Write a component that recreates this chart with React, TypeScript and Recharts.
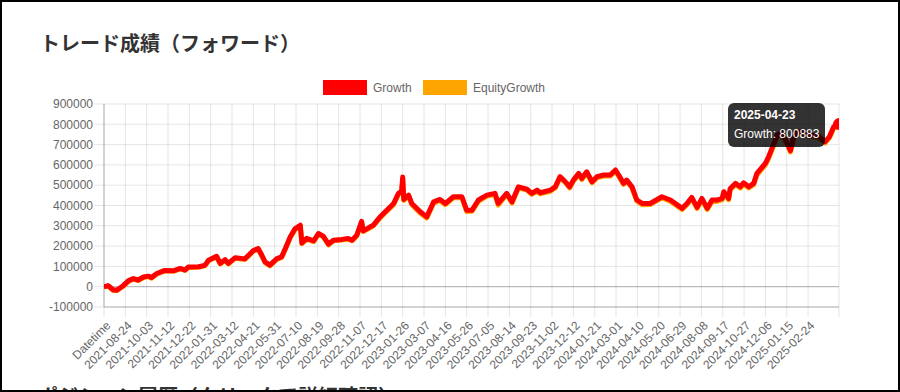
import React from 'react';
import {
  LineChart,
  Line,
  XAxis,
  YAxis,
  CartesianGrid,
  Tooltip,
  ReferenceLine,
} from 'recharts';

// x-axis labels shown by the original chart (every 40th row)
const xTickLabels = [
  'Datetime', '2021-08-24', '2021-10-03', '2021-11-12', '2021-12-22', '2022-01-31',
  '2022-03-12', '2022-04-21', '2022-05-31', '2022-07-10', '2022-08-19', '2022-09-28',
  '2022-11-07', '2022-12-17', '2023-01-26', '2023-03-07', '2023-04-16', '2023-05-26',
  '2023-07-05', '2023-08-14', '2023-09-23', '2023-11-02', '2023-12-12', '2024-01-21',
  '2024-03-01', '2024-04-10', '2024-05-20', '2024-06-29', '2024-08-08', '2024-09-17',
  '2024-10-27', '2024-12-06', '2025-01-15', '2025-02-24',
];

// day offset of each sampled point (0 = the "Datetime" row)
const days = [
  0, 8, 17, 24, 36, 46, 55, 64, 74, 83,
  89, 99, 114, 130, 143, 152, 158, 177, 189, 196,
  211, 218, 227, 233, 246, 264, 271, 280, 289, 296,
  302, 311, 324, 333, 340, 349, 358, 368, 371, 380,
  393, 402, 411, 421, 430, 446, 458, 465, 474, 483,
  486, 499, 505, 518, 524, 543, 552, 558, 560, 562,
  571, 577, 593, 605, 618, 630, 640, 655, 671, 680,
  690, 702, 718, 733, 739, 755, 765, 777, 793, 802,
  812, 818, 837, 846, 855, 865, 873, 880, 890, 896,
  905, 915, 924, 937, 949, 959, 965, 974, 980, 990,
  999, 1009, 1024, 1046, 1062, 1084, 1093, 1102, 1112, 1121,
  1131, 1140, 1149, 1159, 1162, 1171, 1174, 1184, 1193, 1199,
  1209, 1218, 1224, 1240, 1246, 1256, 1262, 1270, 1281, 1287,
  1295, 1306, 1315, 1324, 1340, 1352, 1360, 1368, 1378,
];

const growth = [
  0, 5000, -15000, -17000, 5000, 30000, 40000, 33000, 48000, 52000,
  45000, 65000, 80000, 78000, 90000, 82000, 97000, 98000, 105000, 130000,
  150000, 115000, 133000, 115000, 143000, 137000, 155000, 178000, 188000, 155000,
  122000, 106000, 138000, 147000, 188000, 245000, 285000, 303000, 215000, 238000,
  226000, 262000, 249000, 210000, 229000, 233000, 238000, 229000, 254000, 322000,
  275000, 295000, 303000, 345000, 361000, 410000, 460000, 470000, 540000, 430000,
  451000, 410000, 369000, 344000, 418000, 430000, 410000, 443000, 443000, 377000,
  377000, 427000, 451000, 460000, 410000, 460000, 418000, 492000, 480000, 460000,
  476000, 463000, 476000, 492000, 542000, 517000, 492000, 525000, 558000, 534000,
  566000, 517000, 542000, 550000, 550000, 575000, 550000, 509000, 525000, 492000,
  427000, 410000, 410000, 443000, 427000, 386000, 410000, 440000, 391000, 435000,
  386000, 427000, 427000, 435000, 468000, 435000, 484000, 509000, 492000, 512000,
  492000, 509000, 558000, 608000, 640000, 706000, 747000, 760000, 706000, 670000,
  760000, 764000, 750000, 747000, 740000, 714000, 739000, 788000, 800883,
];

const equityGrowth = [
  0, 3000, -18000, -20000, 2000, 26000, 38000, 30000, 45000, 50000,
  42000, 62000, 78000, 76000, 88000, 80000, 95000, 96000, 103000, 128000,
  146000, 112000, 130000, 112000, 140000, 134000, 152000, 175000, 185000, 150000,
  118000, 103000, 134000, 144000, 184000, 240000, 280000, 300000, 212000, 234000,
  222000, 258000, 246000, 206000, 226000, 230000, 234000, 226000, 250000, 315000,
  272000, 290000, 300000, 340000, 356000, 404000, 455000, 465000, 530000, 425000,
  446000, 404000, 362000, 338000, 412000, 425000, 404000, 438000, 438000, 370000,
  372000, 420000, 446000, 455000, 402000, 455000, 412000, 486000, 476000, 455000,
  470000, 458000, 470000, 486000, 536000, 512000, 486000, 520000, 552000, 528000,
  560000, 512000, 536000, 545000, 545000, 568000, 545000, 504000, 520000, 486000,
  422000, 404000, 405000, 438000, 420000, 380000, 404000, 434000, 385000, 428000,
  380000, 420000, 420000, 428000, 460000, 428000, 476000, 502000, 486000, 505000,
  486000, 502000, 550000, 600000, 632000, 698000, 740000, 752000, 700000, 664000,
  752000, 757000, 744000, 740000, 734000, 708000, 733000, 780000, 795000,
];

const yTicks = [-100000, 0, 100000, 200000, 300000, 400000, 500000, 600000, 700000, 800000, 900000];

const BASE = Date.UTC(2021, 6, 15);
const DAY_MS = 86400000;
const toDay = (s: string) =>
  s === 'Datetime' ? 0 : Math.round((Date.parse(s + 'T00:00:00Z') - BASE) / DAY_MS);
const fromDay = (d: number) => new Date(BASE + d * DAY_MS).toISOString().slice(0, 10);

const data = days.map((d, i) => ({ day: d, Growth: growth[i], EquityGrowth: equityGrowth[i] }));
const lastDay = days[days.length - 1];
const xTicks = [...xTickLabels.map(toDay), lastDay];
const tickText = new Map<number, string>(xTickLabels.map((l) => [toDay(l), l]));

const FONT = '"Liberation Sans", Arial, Helvetica, sans-serif';
const JP_FONT = '"Noto Sans CJK JP", "Noto Sans", sans-serif';

function XTick(props: any) {
  const { x, y, payload } = props;
  const label = tickText.get(payload.value) ?? '';
  const ax = x + 5;
  const ay = y + 7;
  return (
    <text
      x={ax}
      y={ay}
      transform={`rotate(-45 ${ax} ${ay})`}
      textAnchor="end"
      dominantBaseline="middle"
      fontSize={12}
      fontFamily={FONT}
      fill="#666"
    >
      {label}
    </text>
  );
}

function TipContent(props: any) {
  const { active, payload } = props;
  if (!active || !payload || !payload.length) return null;
  const row = payload[0].payload;
  return (
    <div
      style={{
        background: 'rgba(0,0,0,0.8)',
        borderRadius: 6,
        padding: 6,
        color: '#fff',
        fontFamily: FONT,
        fontSize: 12,
        lineHeight: '13px',
        whiteSpace: 'nowrap',
      }}
    >
      <div style={{ fontWeight: 'bold', marginBottom: 6 }}>{fromDay(row.day)}</div>
      <div>Growth: {row.Growth}</div>
    </div>
  );
}

function LegendBox({ color, label, left }: { color: string; label: string; left: number }) {
  return (
    <div style={{ position: 'absolute', left, top: 80, height: 15, display: 'flex', alignItems: 'center' }}>
      <div style={{ width: 44, height: 15, background: color, boxSizing: 'border-box' }} />
      <span style={{ marginLeft: 6, fontFamily: FONT, fontSize: 12, color: '#666' }}>{label}</span>
    </div>
  );
}

export default function App() {
  return (
    <div
      style={{
        position: 'absolute',
        left: 0,
        top: 0,
        width: 900,
        height: 392,
        background: '#fff',
        overflow: 'hidden',
      }}
    >
      <div
        style={{
          position: 'absolute',
          left: 40,
          top: 33,
          fontFamily: JP_FONT,
          fontWeight: 'bold',
          fontSize: 20,
          lineHeight: '20px',
          color: '#333',
          whiteSpace: 'nowrap',
        }}
      >
        トレード成績（フォワード）
      </div>

      <LegendBox color="#ff0000" label="Growth" left={323} />
      <LegendBox color="#ffa500" label="EquityGrowth" left={423} />

      <div style={{ position: 'absolute', left: 0, top: 0 }}>
        <LineChart
          width={900}
          height={392}
          data={data}
          margin={{ top: 104, right: 61, bottom: 25, left: 0 }}
        >
          <CartesianGrid stroke="rgba(0,0,0,0.1)" />
          <XAxis
            type="number"
            dataKey="day"
            domain={[0, lastDay]}
            ticks={xTicks}
            interval={0}
            height={60}
            tickSize={10}
            tickMargin={0}
            tick={<XTick />}
            tickLine={{ stroke: 'rgba(0,0,0,0.1)' }}
            axisLine={{ stroke: 'rgba(0,0,0,0.25)' }}
            allowDataOverflow
          />
          <YAxis
            type="number"
            domain={[-100000, 900000]}
            ticks={yTicks}
            interval={0}
            width={104}
            tickSize={10}
            tickMargin={1}
            tick={{ fontSize: 12, fill: '#666', fontFamily: FONT }}
            tickLine={{ stroke: 'rgba(0,0,0,0.1)' }}
            axisLine={{ stroke: 'rgba(0,0,0,0.25)' }}
          />
          <ReferenceLine y={0} stroke="rgba(0,0,0,0.25)" />
          <Line
            type="linear"
            dataKey="EquityGrowth"
            stroke="#ffa500"
            strokeWidth={5}
            strokeLinejoin="round"
            dot={false}
            activeDot={false}
            isAnimationActive={false}
          />
          <Line
            type="linear"
            dataKey="Growth"
            stroke="#ff0000"
            strokeWidth={5}
            strokeLinejoin="round"
            dot={false}
            activeDot={{ r: 5, fill: '#ff0000', stroke: '#ff0000' }}
            isAnimationActive={false}
          />
          <Tooltip
            active
            defaultIndex={data.length - 1}
            position={{ x: 728, y: 103 }}
            cursor={false}
            isAnimationActive={false}
            content={<TipContent />}
          />
        </LineChart>
      </div>

      <div
        style={{
          position: 'absolute',
          left: 38,
          top: 386,
          fontFamily: JP_FONT,
          fontWeight: 'bold',
          fontSize: 20,
          lineHeight: '20px',
          color: '#333',
          whiteSpace: 'nowrap',
        }}
      >
        ポジション履歴（クリックで詳細確認）
      </div>

      <div
        style={{
          position: 'absolute',
          left: 0,
          top: 0,
          width: 900,
          height: 392,
          border: '2px solid #000',
          boxSizing: 'border-box',
          pointerEvents: 'none',
        }}
      />
    </div>
  );
}
